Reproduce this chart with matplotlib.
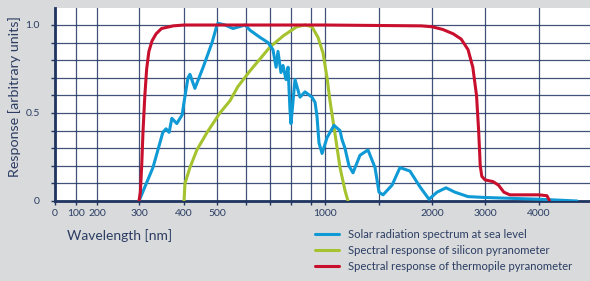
import matplotlib
matplotlib.use('Agg')
import numpy as np
import matplotlib.pyplot as plt

# ---------- DATA ----------
solar_wl = [300, 331, 353, 360, 367, 373, 384, 396, 400, 412, 418, 433, 458, 485, 500,
            503, 528, 555, 597, 617, 658, 692, 714, 729, 738, 752, 762, 776, 786, 795,
            800, 820, 845, 870, 907, 929, 943, 957, 979, 1019, 1083, 1139, 1157, 1185,
            1222, 1259, 1324, 1398, 1463, 1500, 1538, 1623, 1698, 1792, 1887, 1972,
            2094, 2264, 2434, 2679, 3000, 4000, 4717]
solar_val = [0.0, 0.19, 0.39, 0.41, 0.39, 0.47, 0.44, 0.49, 0.56, 0.70, 0.72, 0.64, 0.76,
             0.90, 1.0, 1.01, 1.0, 0.98, 1.0, 0.97, 0.93, 0.90, 0.86, 0.76, 0.85, 0.73,
             0.77, 0.69, 0.76, 0.52, 0.44, 0.69, 0.59, 0.62, 0.59, 0.56, 0.48, 0.33, 0.27,
             0.36, 0.43, 0.40, 0.35, 0.30, 0.20, 0.16, 0.26, 0.29, 0.19, 0.05, 0.035, 0.09,
             0.19, 0.17, 0.08, 0.01, 0.05, 0.075, 0.05, 0.025, 0.02, 0.01, 0.0]

silicon_wl = [400, 403, 418, 439, 470, 510, 545, 572, 617, 700, 765, 829, 871, 907, 950,
              986, 1019, 1046, 1093, 1139, 1185, 1213]
silicon_val = [0.0, 0.10, 0.19, 0.29, 0.39, 0.50, 0.57, 0.65, 0.74, 0.875, 0.94, 0.99, 1.0,
               0.99, 0.93, 0.84, 0.70, 0.57, 0.38, 0.19, 0.06, 0.0]

thermo_wl = [300, 303, 306, 309, 313, 317, 322, 329, 338, 350, 376, 400, 1000, 1900, 2000,
             2200, 2400, 2550, 2680, 2770, 2840, 2880, 2910, 2940, 3000, 3150, 3250, 3350,
             3460, 3700, 4000, 4150, 4200]
thermo_val = [0.0, 0.05, 0.20, 0.40, 0.60, 0.75, 0.85, 0.91, 0.95, 0.98, 0.995, 1.0, 1.0,
              0.995, 0.99, 0.975, 0.95, 0.92, 0.86, 0.76, 0.60, 0.40, 0.20, 0.14, 0.12, 0.11,
              0.09, 0.05, 0.035, 0.035, 0.035, 0.03, 0.0]

labels = ['Solar radiation spectrum at sea level',
          'Spectral response of silicon pyranometer',
          'Spectral response of thermopile pyranometer']

x_ticks = [0, 100, 200, 300, 400, 500, 600, 700, 800, 900, 1000, 1500, 2000, 3000, 4000]
x_tick_labels = ['0', '100', '200', '300', '400', '500', '', '', '', '', '1000', '',
                 '2000', '3000', '4000']
y_ticks = [0, 0.1, 0.2, 0.3, 0.4, 0.5, 0.6, 0.7, 0.8, 0.9, 1.0]
y_tick_labels = ['0', '', '', '', '', '0.5', '', '', '', '', '1.0']

# hand-drawn wavelength axis: piecewise between grid lines
SCALE_WL = [0, 100, 200, 300, 400, 500, 600, 700, 800, 900, 1000, 1500, 2000, 3000, 4000, 5000]
SCALE_POS = [55, 76, 97, 139, 184, 217, 246, 270, 291, 311, 325, 379, 432, 485, 539, 592]


def fwd(x):
    return np.interp(x, SCALE_WL, SCALE_POS)


def inv(p):
    return np.interp(p, SCALE_POS, SCALE_WL)


# ---------- STYLE ----------
NAVY = '#1f3560'
TEXT = '#2b3d63'
BG = '#d9dadb'
BLUE = '#0f9ad6'
GREEN = '#a5c32f'
RED = '#c8102e'

plt.rcParams['font.family'] = ['Lato', 'DejaVu Sans']

fig = plt.figure(figsize=(5.9, 2.81), dpi=100, facecolor=BG)
ax = fig.add_axes([55 / 590, 80 / 281, 535 / 590, 193 / 281])
ax.set_facecolor('white')
ax.set_xscale('function', functions=(fwd, inv))

l_si, = ax.plot(silicon_wl, silicon_val, color=GREEN, lw=2.2, zorder=3,
                solid_capstyle='round', solid_joinstyle='round')
l_sol, = ax.plot(solar_wl, solar_val, color=BLUE, lw=2.2, zorder=4,
                 solid_capstyle='round', solid_joinstyle='round')
l_th, = ax.plot(thermo_wl, thermo_val, color=RED, lw=2.2, zorder=5,
                solid_capstyle='round', solid_joinstyle='round')

ax.set_xlim(0, inv(590))
ax.set_ylim(0, 193 / 176)

ax.set_xticks(x_ticks)
ax.set_xticklabels(x_tick_labels)
ax.set_yticks(y_ticks)
ax.set_yticklabels(y_tick_labels)
ax.xaxis.set_minor_locator(matplotlib.ticker.NullLocator())
ax.tick_params(axis='both', direction='out', length=3, width=1, color=NAVY,
               labelcolor=TEXT, labelsize=7.5)
ax.tick_params(axis='x', pad=3)
ax.tick_params(axis='y', pad=8)
ax.grid(True, color=NAVY, lw=0.9, alpha=0.85)
ax.set_axisbelow(True)

for s in ['top', 'right']:
    ax.spines[s].set_visible(False)
for s in ['left', 'bottom']:
    ax.spines[s].set_color(NAVY)
    ax.spines[s].set_linewidth(2)

fig.text(15 / 590, 1 - 97 / 281, 'Response [arbitrary units]', rotation=90,
         ha='center', va='center', color=TEXT, fontsize=10.3)
fig.text(67 / 590, 1 - 236 / 281, 'Wavelength [nm]', ha='left', va='center',
         color=TEXT, fontsize=10)

fig.legend([l_sol, l_si, l_th], labels, loc='upper left',
           bbox_to_anchor=(315 / 590, 1 - 229 / 281), frameon=False,
           fontsize=8.1, labelcolor=TEXT, handlelength=2.1, handletextpad=0.8,
           labelspacing=0.45, borderpad=0, borderaxespad=0)

fig.savefig('out.png', dpi=100, facecolor=BG)
